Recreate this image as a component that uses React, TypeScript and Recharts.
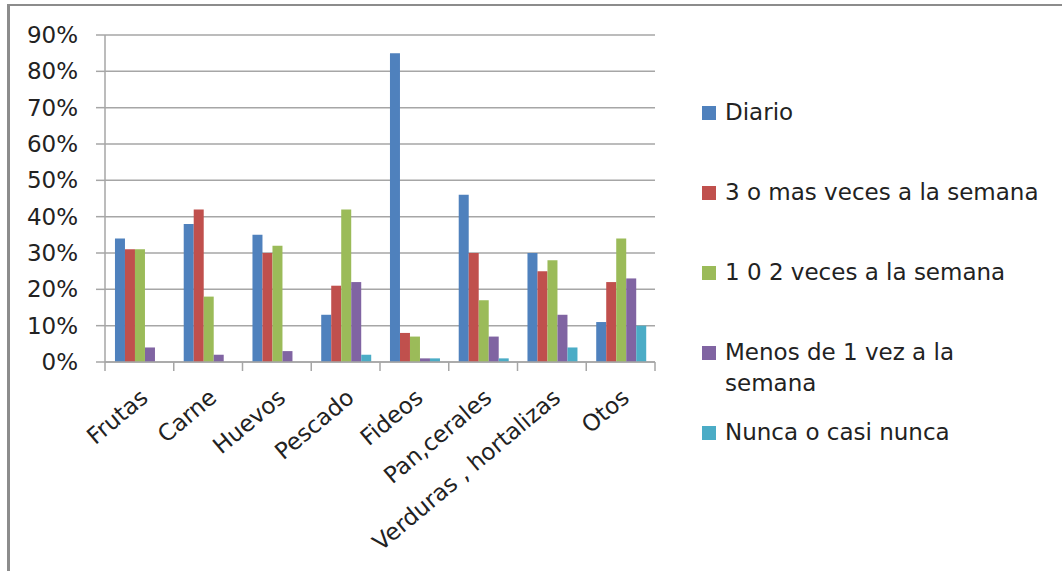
import { BarChart, Bar, XAxis, YAxis, CartesianGrid } from "recharts";

const categories = [
  "Frutas",
  "Carne",
  "Huevos",
  "Pescado",
  "Fideos",
  "Pan,cerales",
  "Verduras , hortalizas",
  "Otos",
];

// percentages per food group
const diario = [34, 38, 35, 13, 85, 46, 30, 11];
const tresOMas = [31, 42, 30, 21, 8, 30, 25, 22];
const unoODos = [31, 18, 32, 42, 7, 17, 28, 34];
const menosDeUna = [4, 2, 3, 22, 1, 7, 13, 23];
const nunca = [0, 0, 0, 2, 1, 1, 4, 10];

const yTicks = [0, 10, 20, 30, 40, 50, 60, 70, 80, 90];

const SERIES = [
  { key: "diario", name: "Diario", color: "#4F81BD", values: diario },
  { key: "tresOMas", name: "3 o mas veces a la semana", color: "#C0504D", values: tresOMas },
  { key: "unoODos", name: "1 0 2 veces a la semana", color: "#9BBB59", values: unoODos },
  { key: "menosDeUna", name: "Menos de 1 vez a la semana", color: "#8064A2", values: menosDeUna },
  { key: "nunca", name: "Nunca o casi nunca", color: "#4BACC6", values: nunca },
];

const FONT = "'DejaVu Sans', sans-serif";
const TEXT = "#222222";
const GRID = "#a6a6a6";

const CHART_W = 700;
const CHART_H = 571;
const PLOT_LEFT = 105;
const PLOT_RIGHT = 655;
const PLOT_TOP = 35;
const PLOT_BOTTOM = 362;
const X_AXIS_H = 150;
const BAND = (PLOT_RIGHT - PLOT_LEFT) / categories.length;

const data = categories.map((name, i) => {
  const row: Record<string, string | number> = { name };
  SERIES.forEach((s) => {
    row[s.key] = s.values[i];
  });
  return row;
});

// category labels, plus tick marks on the band edges (Excel style)
function CategoryTick(props: any) {
  const { x, y, payload, index } = props;
  const lx = x + 10;
  const ly = y + 38;
  const last = index === categories.length - 1;
  return (
    <g>
      <line x1={x - BAND / 2} x2={x - BAND / 2} y1={y} y2={y + 9} stroke={GRID} strokeWidth={1.5} />
      {last && <line x1={x + BAND / 2} x2={x + BAND / 2} y1={y} y2={y + 9} stroke={GRID} strokeWidth={1.5} />}
      <text
        x={lx}
        y={ly}
        textAnchor="end"
        fill={TEXT}
        fontSize={23}
        fontFamily={FONT}
        transform={`rotate(-40, ${lx}, ${ly})`}
      >
        {payload.value}
      </text>
    </g>
  );
}

export default function App() {
  return (
    <div
      style={{
        position: "absolute",
        left: 0,
        top: 0,
        width: 1062,
        height: 571,
        background: "#ffffff",
        fontFamily: FONT,
        overflow: "hidden",
      }}
    >
      <div
        style={{
          position: "absolute",
          left: 7,
          top: 4,
          width: 1062,
          height: 600,
          borderTop: "2px solid #8c8c8c",
          borderLeft: "3px solid #8c8c8c",
        }}
      />
      <div style={{ position: "absolute", left: 0, top: 0 }}>
        <BarChart
          width={CHART_W}
          height={CHART_H}
          data={data}
          margin={{
            top: PLOT_TOP,
            left: 0,
            right: CHART_W - PLOT_RIGHT,
            bottom: CHART_H - PLOT_BOTTOM - X_AXIS_H,
          }}
          barCategoryGap="14.5%"
          barGap={0}
        >
          <CartesianGrid horizontal vertical={false} stroke={GRID} strokeWidth={1.5} />
          <XAxis
            dataKey="name"
            interval={0}
            height={X_AXIS_H}
            axisLine={{ stroke: GRID, strokeWidth: 1.5 }}
            tickLine={false}
            tickSize={0}
            tickMargin={0}
            tick={<CategoryTick />}
          />
          <YAxis
            width={PLOT_LEFT}
            domain={[0, 90]}
            ticks={yTicks}
            interval={0}
            tickFormatter={(v) => `${v}%`}
            axisLine={{ stroke: GRID, strokeWidth: 1.5 }}
            tickLine={{ stroke: GRID, strokeWidth: 1.5 }}
            tickSize={9}
            tickMargin={18}
            tick={{ fill: TEXT, fontSize: 23, fontFamily: FONT }}
          />
          {SERIES.map((s) => (
            <Bar key={s.key} dataKey={s.key} name={s.name} fill={s.color} isAnimationActive={false} />
          ))}
        </BarChart>
      </div>
      <div style={{ position: "absolute", left: 702, top: 97 }}>
        {SERIES.map((s) => (
          <div key={s.key} style={{ display: "flex", alignItems: "flex-start", height: 80 }}>
            <div
              style={{
                width: 14,
                height: 14,
                marginTop: 9,
                marginRight: 9,
                background: s.color,
                flexShrink: 0,
              }}
            />
            <div style={{ fontSize: 23, lineHeight: "31px", color: TEXT, maxWidth: 318 }}>{s.name}</div>
          </div>
        ))}
      </div>
    </div>
  );
}
